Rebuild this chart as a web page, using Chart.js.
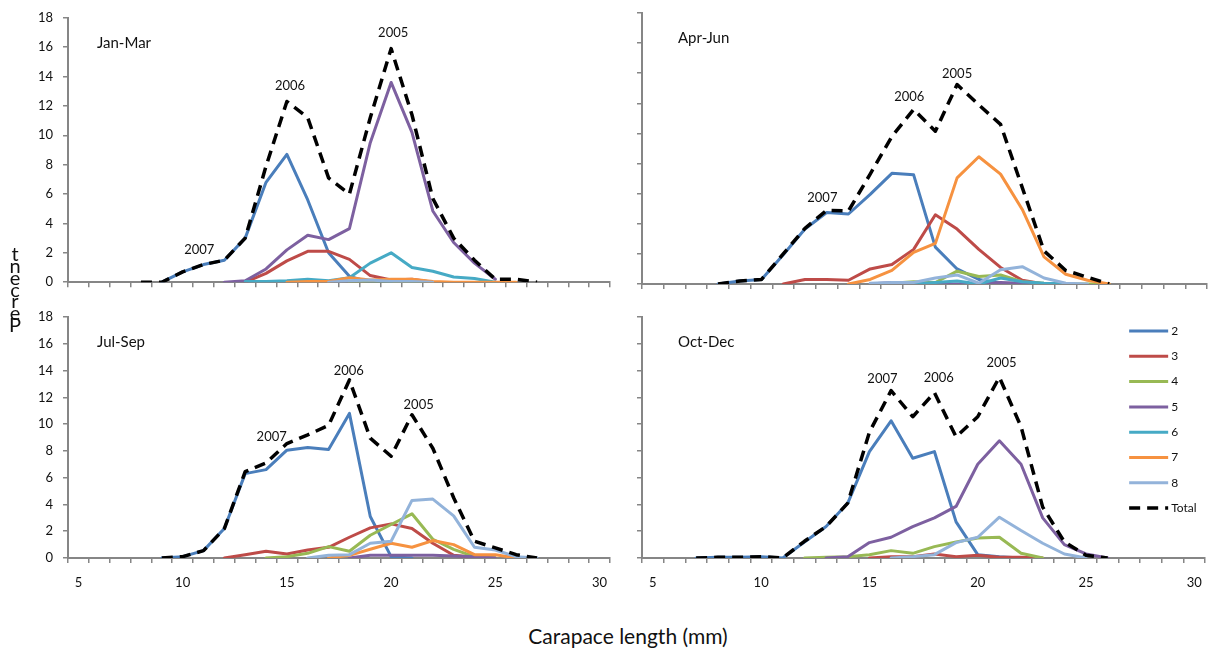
<!DOCTYPE html>
<html>
<head>
<meta charset="utf-8">
<script src="https://cdn.jsdelivr.net/npm/chart.js@4.4.1/dist/chart.umd.min.js"></script>
<style>
  html, body { margin: 0; padding: 0; background: #fff; overflow: hidden; }
  #wrap { position: relative; width: 1214px; height: 653px; }
  .panel { position: absolute; }
  #xTitle { position: absolute; left: 428px; width: 400px; top: 623px; text-align: center;
            font: 21px Lato, sans-serif; color: #111; }
</style>
</head>
<body>
<div id="wrap">
  <div class="panel" style="left:0;top:0"><canvas id="janMar" width="626" height="300"></canvas></div>
  <div class="panel" style="left:626px;top:0"><canvas id="aprJun" width="588" height="300"></canvas></div>
  <div class="panel" style="left:0;top:240px"><canvas id="julSep" width="626" height="370"></canvas></div>
  <div class="panel" style="left:626px;top:300px"><canvas id="octDec" width="588" height="310"></canvas></div>
  <div id="xTitle">Carapace length (mm)</div>
</div>
<script>
// length classes (mm) on the category axis
const lengths = [5, 6, 7, 8, 9, 10, 11, 12, 13, 14, 15, 16, 17, 18, 19, 20, 21, 22, 23, 24, 25, 26, 27, 28, 29, 30];
const seriesNames = ['2', '3', '4', '5', '6', '7', '8', 'Total'];
const seriesColors = ['#4A7EBB', '#BE4B48', '#98B954', '#7D60A0', '#46AAC5', '#F69240', '#93B3DA', '#000000'];

// place a run of values starting at a given length, the rest stays empty
const seg = (from, vals) => lengths.map(l => (l >= from && l < from + vals.length) ? vals[l - from] : null);

// Jan-Mar
const janMar2 = seg(9, [0, 0.7, 1.2, 1.5, 3.0, 6.8, 8.7, 5.6, 2.0, 0.4, 0, 0]);
const janMar3 = seg(13, [0, 0.6, 1.45, 2.1, 2.1, 1.55, 0.45, 0.15, 0.2, 0]);
const janMar4 = seg(18, [0, 0.05, 0.05, 0.05, 0]);
const janMar5 = seg(12, [0, 0.1, 0.9, 2.2, 3.2, 2.9, 3.65, 9.5, 13.6, 10.2, 4.85, 2.7, 1.3, 0.2]);
const janMar6 = seg(13, [0.05, 0.05, 0.1, 0.2, 0.1, 0.3, 1.3, 2.0, 1.0, 0.75, 0.35, 0.25, 0]);
const janMar7 = seg(15, [0, 0.05, 0.05, 0.3, 0.15, 0.2, 0.2, 0.05, 0, 0, 0, 0]);
const janMar8 = seg(17, [0, 0.1, 0.15, 0.05, 0.05, 0]);
const janMarTotal = seg(8, [0, 0, 0.7, 1.2, 1.5, 3.0, 7.9, 12.3, 11.2, 7.1, 6.0, 11.2, 15.9, 11.4, 5.7, 3.0, 1.5, 0.2, 0.2, 0]);

// Apr-Jun
const aprJun2 = seg(8, [0, 0.2, 0.3, 1.95, 3.65, 4.75, 4.65, 5.95, 7.35, 7.25, 2.45, 1.0, 0.3, 0.05, 0]);
const aprJun3 = seg(11, [0, 0.3, 0.3, 0.25, 1.0, 1.3, 2.3, 4.6, 3.65, 2.3, 1.1, 0.25, 0]);
const aprJun4 = seg(16, [0.05, 0.15, 0.1, 0.85, 0.5, 0.6, 0.15, 0.05, 0, 0, 0]);
const aprJun5 = seg(15, [0, 0.1, 0.05, 0, 0, 0, 0.1, 0.05, 0, 0]);
const aprJun6 = seg(16, [0, 0, 0.1, 0.2, 0, 0.4, 0.15, 0.05, 0]);
const aprJun7 = seg(14, [0, 0.3, 0.9, 2.1, 2.7, 7.05, 8.45, 7.3, 4.95, 1.8, 0.65, 0.25, 0]);
const aprJun8 = seg(15, [0.05, 0.1, 0.1, 0.4, 0.6, 0.05, 0.95, 1.15, 0.4, 0.05, 0]);
const aprJunTotal = seg(8, [0, 0.2, 0.3, 2.0, 3.7, 4.9, 4.85, 7.3, 9.8, 11.6, 10.15, 13.25, 11.9, 10.6, 6.4, 2.2, 0.9, 0.45, 0]);

// Jul-Sep
const julSep2 = seg(9, [0, 0.1, 0.55, 2.2, 6.3, 6.6, 8.05, 8.25, 8.1, 10.8, 3.1, 0.1, 0]);
const julSep3 = seg(12, [0, 0.25, 0.5, 0.3, 0.6, 0.8, 1.55, 2.25, 2.55, 2.2, 1.1, 0.2, 0.05, 0]);
const julSep4 = seg(14, [0, 0.1, 0.35, 0.85, 0.5, 1.7, 2.5, 3.3, 1.4, 0.65, 0.1, 0]);
const julSep5 = seg(18, [0, 0.2, 0.2, 0.2, 0.2, 0.15, 0.1, 0]);
const julSep6 = seg(19, []);
const julSep7 = seg(17, [0, 0.2, 0.65, 1.1, 0.8, 1.3, 1.0, 0.25, 0.25, 0]);
const julSep8 = seg(16, [0, 0.2, 0.25, 1.1, 1.25, 4.3, 4.4, 3.15, 0.8, 0.6, 0.1, 0]);
const julSepTotal = seg(9, [0, 0.1, 0.55, 2.2, 6.45, 7.1, 8.55, 9.2, 9.9, 13.3, 8.95, 7.6, 10.7, 8.2, 4.5, 1.25, 0.75, 0.25, 0]);

// Oct-Dec
const octDec2 = seg(7, [0, 0.05, 0.05, 0.1, 0, 1.2, 2.35, 4.1, 7.95, 10.25, 7.45, 7.95, 2.7, 0.25, 0.1, 0]);
const octDec3 = seg(15, [0, 0.1, 0.1, 0.3, 0.1, 0.2, 0.05, 0.05, 0]);
const octDec4 = seg(12, [0, 0.05, 0.1, 0.25, 0.55, 0.35, 0.85, 1.2, 1.5, 1.55, 0.35, 0]);
const octDec5 = seg(13, [0, 0.1, 1.15, 1.55, 2.35, 3.0, 3.85, 7.0, 8.75, 7.0, 3.0, 1.0, 0.3, 0]);
const octDec6 = seg(19, []);
const octDec7 = seg(19, []);
const octDec8 = seg(16, [0, 0.1, 0.25, 1.15, 1.55, 3.05, 2.05, 1.1, 0.3, 0]);
const octDecTotal = seg(7, [0, 0.05, 0.05, 0.1, 0, 1.25, 2.35, 4.1, 9.4, 12.5, 10.55, 12.35, 9.05, 10.55, 13.5, 9.8, 3.8, 1.2, 0.2, 0]);

// year-class labels: [text, length, percent]
const janMarYears = [['2007', 10.8, 2.2], ['2006', 15.15, 13.35], ['2005', 20.1, 16.95]];
const aprJunYears = [['2007', 12.8, 5.7], ['2006', 16.8, 12.45], ['2005', 19.0, 13.95]];
const julSepYears = [['2007', 14.27, 9.06], ['2006', 17.97, 13.95], ['2005', 21.32, 11.46]];
const octDecYears = [['2007', 15.6, 13.4], ['2006', 18.2, 13.47], ['2005', 21.1, 14.6]];

const FONT = 'Lato, sans-serif';
const AXIS = '#868686';

function buildDatasets(series) {
  return series.map((data, i) => ({
    label: seriesNames[i],
    data,
    borderColor: seriesColors[i],
    backgroundColor: seriesColors[i],
    borderWidth: i === 7 ? 3.5 : 3,
    borderDash: i === 7 ? [11, 7] : [],
    borderCapStyle: i === 7 ? 'butt' : 'round',
    borderJoinStyle: 'round',
    pointRadius: 0,
    tension: 0,
    spanGaps: false,
    order: 7 - i
  }));
}

// box = canvas position on the page, area = wanted plot area on the page
function makePanel(id, box, area, series, title, titleDx, years, opts) {
  const extra = [{
    id: 'panelText',
    afterDatasetsDraw(chart) {
      const { ctx, chartArea, scales } = chart;
      ctx.save();
      ctx.fillStyle = '#111';
      ctx.textBaseline = 'middle';
      ctx.font = '15px ' + FONT;
      ctx.textAlign = 'left';
      ctx.fillText(title, chartArea.left + titleDx, chartArea.top + 25);
      ctx.font = '13px ' + FONT;
      ctx.textAlign = 'center';
      years.forEach(([txt, len, pct]) => {
        ctx.fillText(txt, scales.x.getPixelForValue(len - lengths[0]), scales.y.getPixelForValue(pct));
      });
      ctx.restore();
    }
  }];
  if (opts.legend) extra.push({
    id: 'sideLegend',
    afterDatasetsDraw(chart) {
      const { ctx, chartArea } = chart;
      ctx.save();
      ctx.font = '12px ' + FONT;
      ctx.textBaseline = 'middle';
      ctx.textAlign = 'left';
      chart.data.datasets.forEach((ds, i) => {
        const yy = chartArea.top + 14 + i * 25.3;
        const x0 = chartArea.right - 76, x1 = chartArea.right - 37;
        ctx.strokeStyle = ds.borderColor;
        ctx.lineWidth = ds.borderWidth;
        ctx.lineCap = 'butt';
        ctx.setLineDash(ds.borderDash);
        ctx.beginPath();
        ctx.moveTo(x0, yy);
        ctx.lineTo(x1, yy);
        ctx.stroke();
        ctx.setLineDash([]);
        ctx.fillStyle = '#111';
        ctx.fillText(ds.label, x1 + 3, yy);
      });
      ctx.restore();
    }
  });
  if (opts.yTitle) extra.push({
    id: 'yTitle',
    afterDraw(chart) {
      // letters stacked bottom-up
      const { ctx } = chart;
      ctx.save();
      ctx.font = '20px ' + FONT;
      ctx.fillStyle = '#111';
      ctx.textAlign = 'center';
      ctx.textBaseline = 'alphabetic';
      'Percent'.split('').forEach((ch, i) => ctx.fillText(ch, 15, 332 - box.top - i * 11.8));
      ctx.restore();
    }
  });

  const wY = area.l - box.left;
  const hX = box.top + box.h - area.b;
  return new Chart(document.getElementById(id), {
    type: 'line',
    data: { labels: lengths.map(String), datasets: buildDatasets(series) },
    options: {
      responsive: false,
      animation: false,
      devicePixelRatio: 1,
      layout: { padding: { left: 0, right: box.left + box.w - area.r, top: area.t - box.top, bottom: 0 } },
      plugins: { legend: { display: false }, tooltip: { enabled: false } },
      scales: {
        x: {
          type: 'category',
          offset: true,
          border: { display: true, color: AXIS, width: 2 },
          grid: { offset: true, drawOnChartArea: false, drawTicks: true, tickLength: 5, color: AXIS, lineWidth: 1.5 },
          ticks: {
            display: opts.xLabels,
            autoSkip: false,
            maxRotation: 0,
            padding: 12,
            color: '#111',
            font: { family: FONT, size: 13 },
            callback: (v, i) => (lengths[i] % 5 === 0 ? String(lengths[i]) : '')
          },
          afterFit: s => { s.height = hX; }
        },
        y: {
          min: 0, max: 18,
          border: { display: true, color: AXIS, width: 2 },
          grid: { drawOnChartArea: false, drawTicks: true, tickLength: 5, color: AXIS, lineWidth: 1.5 },
          ticks: {
            display: opts.yLabels,
            stepSize: 2,
            padding: 10,
            color: '#111',
            font: { family: FONT, size: 13 }
          },
          afterFit: s => { s.width = wY; }
        }
      }
    },
    plugins: extra
  });
}

makePanel('janMar', { left: 0, top: 0, w: 626, h: 300 }, { l: 68, r: 610, t: 13, b: 284 },
  [janMar2, janMar3, janMar4, janMar5, janMar6, janMar7, janMar8, janMarTotal],
  'Jan-Mar', 29, janMarYears, { xLabels: false, yLabels: true });
makePanel('aprJun', { left: 626, top: 0, w: 588, h: 300 }, { l: 642, r: 1207, t: 13, b: 284 },
  [aprJun2, aprJun3, aprJun4, aprJun5, aprJun6, aprJun7, aprJun8, aprJunTotal],
  'Apr-Jun', 36, aprJunYears, { xLabels: false, yLabels: false });
makePanel('julSep', { left: 0, top: 240, w: 626, h: 370 }, { l: 68, r: 610, t: 317, b: 558 },
  [julSep2, julSep3, julSep4, julSep5, julSep6, julSep7, julSep8, julSepTotal],
  'Jul-Sep', 29, julSepYears, { xLabels: true, yLabels: true, yTitle: true });
makePanel('octDec', { left: 626, top: 300, w: 588, h: 310 }, { l: 642, r: 1207, t: 317, b: 558 },
  [octDec2, octDec3, octDec4, octDec5, octDec6, octDec7, octDec8, octDecTotal],
  'Oct-Dec', 36, octDecYears, { xLabels: true, yLabels: false, legend: true });
</script>
</body>
</html>
